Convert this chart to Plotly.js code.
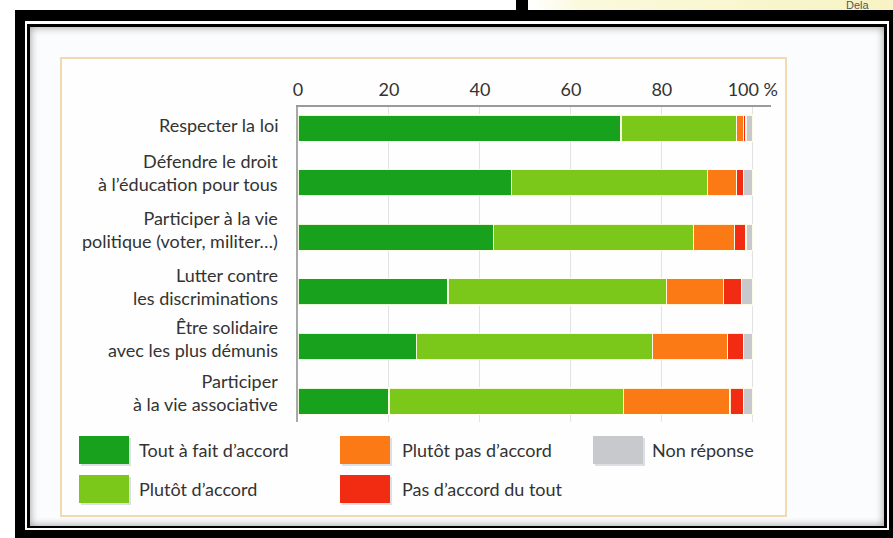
<!DOCTYPE html>
<html>
<head>
<meta charset="utf-8">
<script src="https://cdn.plot.ly/plotly-3.0.1.min.js"></script>
<style>
  html, body { margin:0; padding:0; background:#ffffff; width:893px; height:538px; overflow:hidden; }
  .abs { position:absolute; }
  #chart { position:absolute; left:0; top:0; width:893px; height:538px; }
</style>
</head>
<body>
<!-- decorative scan frame -->
<div class="abs" style="left:528px;top:0;width:365px;height:12px;background:linear-gradient(to right,#ffffff 0%,#fbf9dc 15%,#f7f3c4 100%);"></div>
<div class="abs" style="left:15px;top:10px;width:878px;height:528px;background:#000;"></div>
<div class="abs" style="left:516px;top:0;width:12px;height:25px;background:#000;"></div>
<div class="abs" style="left:25px;top:21px;width:864px;height:509px;background:#fff;"></div>
<div class="abs" style="left:27px;top:24px;width:860px;height:504px;background:#000;"></div>
<div class="abs" style="left:30px;top:27px;width:854px;height:499px;background:#fbfcfd;box-shadow:inset 0 0 9px rgba(0,0,0,0.4);"></div>
<div class="abs" style="left:60px;top:57px;width:723px;height:456px;border:2px solid #f1d9b0;background:#fefefe;"></div>
<div class="abs" style="left:846px;top:0px;font-family:'Liberation Sans',Arial,sans-serif;font-size:11px;line-height:11px;color:#555;z-index:2;">Dela</div>
<div id="chart"></div>
<script>
// ---- data ----
const categories = [
  "Respecter la loi",
  "Défendre le droit<br>à l’éducation pour tous",
  "Participer à la vie<br>politique (voter, militer…)",
  "Lutter contre<br>les discriminations",
  "Être solidaire<br>avec les plus démunis",
  "Participer<br>à la vie associative"
];
const seriesNames = ["Tout à fait d’accord", "Plutôt d’accord", "Plutôt pas d’accord", "Pas d’accord du tout", "Non réponse"];
const toutAFait   = [71, 47, 43, 33, 26, 20];
const plutotAcc   = [25.5, 43, 44, 48, 52, 51.5];
const plutotPas   = [1.5, 6.5, 9, 12.5, 16.5, 23.5];
const pasDuTout   = [0.5, 1.5, 2.5, 4, 3.5, 3];
const nonReponse  = [1.5, 2, 1.5, 2.5, 2, 2];
const tickVals    = [0, 20, 40, 60, 80, 100];
const tickText    = ["0", "20", "40", "60", "80", "100 %"];
const colors      = ["#17a11d", "#7bc71a", "#fb7a16", "#f12c12", "#c8c9cc"];

const seriesValues = [toutAFait, plutotAcc, plutotPas, pasDuTout, nonReponse];

const traces = seriesValues.map((vals, i) => ({
  type: "bar",
  orientation: "h",
  name: seriesNames[i],
  x: vals,
  y: categories,
  marker: { color: colors[i], line: { color: "rgba(255,255,235,0.9)", width: 1.2 } },
  hoverinfo: "none",
  showlegend: false
}));

// geometry
const W = 893, H = 538;
const mL = 298, mR = 122, mT = 107, mB = 116;
const pw = W - mL - mR, ph = H - mT - mB;
const px2x = p => (p - mL) / pw;
const py2y = p => (H - mB - p) / ph;

const labelFont = { family: "Lato, 'Open Sans', sans-serif", size: 18, color: "#333333" };

// category labels
const yShifts = [3, 10, 8, 5, 8, 9];
const annotations = categories.map((c, i) => ({
  xref: "paper", yref: "y", x: 0, y: c,
  xanchor: "right", yanchor: "middle", xshift: -18, yshift: yShifts[i],
  text: c, showarrow: false, align: "right", font: labelFont
}));

// legend (custom, from series names / colours)
const legendPos = [
  { sx: 79, tx: 137, cy: 450 },
  { sx: 79, tx: 137, cy: 489 },
  { sx: 340, tx: 400, cy: 450 },
  { sx: 340, tx: 400, cy: 489 },
  { sx: 593, tx: 650, cy: 450 }
];
const shapes = [];
legendPos.forEach((p, i) => {
  shapes.push({ type: "rect", xref: "paper", yref: "paper",
    x0: px2x(p.sx + 2), x1: px2x(p.sx + 52), y0: py2y(p.cy + 16), y1: py2y(p.cy - 12),
    line: { width: 0 }, fillcolor: "rgba(120,130,150,0.25)" });
  shapes.push({ type: "rect", xref: "paper", yref: "paper",
    x0: px2x(p.sx), x1: px2x(p.sx + 50), y0: py2y(p.cy + 14), y1: py2y(p.cy - 14),
    line: { width: 0 }, fillcolor: colors[i] });
  annotations.push({ xref: "paper", yref: "paper", x: px2x(p.tx), y: py2y(p.cy),
    xanchor: "left", yanchor: "middle", text: seriesNames[i], showarrow: false,
    font: labelFont });
});

const layout = {
  width: W, height: H,
  margin: { l: mL, r: mR, t: mT, b: mB, pad: 0 },
  paper_bgcolor: "rgba(0,0,0,0)",
  plot_bgcolor: "rgba(0,0,0,0)",
  barmode: "stack",
  bargap: 0.52,
  showlegend: false,
  xaxis: {
    side: "top", range: [0, 104], tickvals: tickVals, ticktext: tickText,
    showgrid: true, gridcolor: "#e2e2e2", gridwidth: 1,
    zeroline: false, showline: true, linecolor: "#9a9a9a", linewidth: 2,
    ticks: "", tickfont: { family: "Lato, 'Open Sans', sans-serif", size: 18, color: "#333" },
    ticklabelstandoff: 2, fixedrange: true
  },
  yaxis: {
    type: "category", range: [5.384, -0.385],
    showticklabels: false, showgrid: false, zeroline: false,
    showline: true, linecolor: "#a9a9a9", linewidth: 2, ticks: "", fixedrange: true
  },
  annotations: annotations,
  shapes: shapes
};

Plotly.newPlot("chart", traces, layout, { displayModeBar: false, staticPlot: true });
</script>
</body>
</html>
